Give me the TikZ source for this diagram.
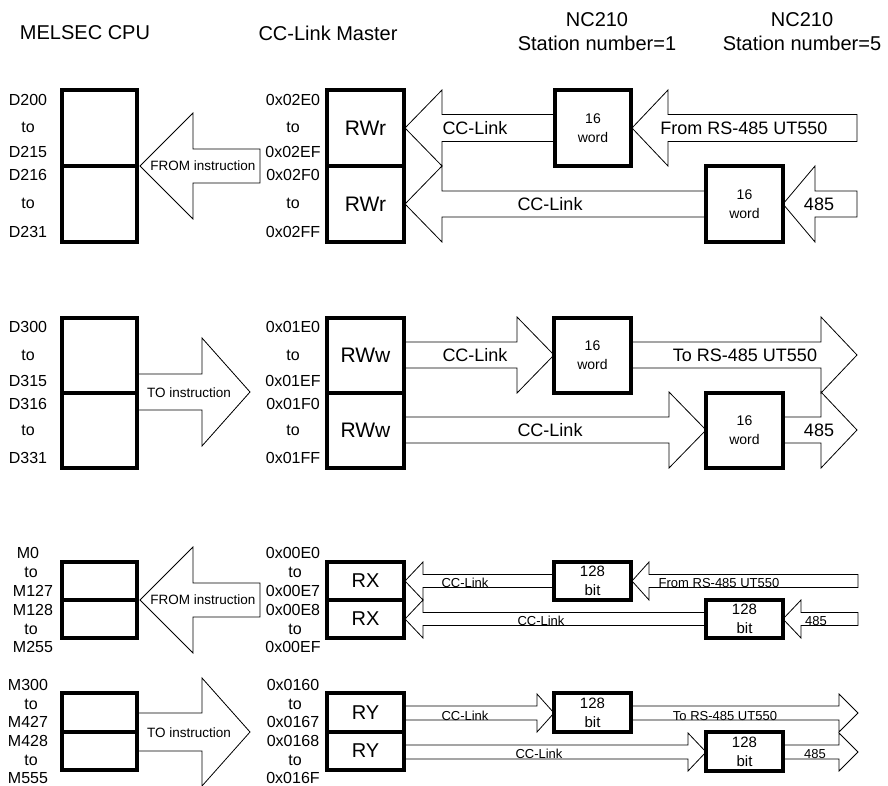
\documentclass[tikz,border=0pt]{standalone}
\usepackage{fontspec}
\setmainfont{Liberation Sans}
\newcommand\blockarrow[6]{% tip x, centre y, head base x, tail x, head half height, shaft half height
  \draw[arw] (#1,#2) -- (#3,{#2-#5}) -- (#3,{#2-#6}) -- (#4,{#2-#6}) -- (#4,{#2+#6}) -- (#3,{#2+#6}) -- (#3,{#2+#5}) -- cycle;}
\newcommand\boxat[6][]{% [style] name, x1, y1, x2, y2, text
  \node[bx,#1,minimum width={#5-#3},minimum height={#6-#4}] (#2) at ({(#3+#5)/2},{(#4+#6)/2})}
\tikzset{
  arw/.style={draw=black,fill=white,line width=0.8pt,line join=miter},
  bx/.style={draw=black,fill=white,line width=3.3pt,inner sep=0pt,align=center},
  lab/.style={font=\fontsize{16}{16}\selectfont,inner sep=0pt},
  hdr/.style={font=\fontsize{20}{24}\selectfont,inner sep=0pt,align=center},
  big/.style={font=\fontsize{21}{21}\selectfont},
  med/.style={font=\fontsize{20}{20}\selectfont},
  alab/.style={font=\fontsize{18}{18}\selectfont,inner sep=0pt},
  slab/.style={font=\fontsize{13}{13}\selectfont,inner sep=0pt,anchor=base},
  ins/.style={font=\fontsize{13.5}{13.5}\selectfont,inner sep=0pt},
  wrd/.style={font=\fontsize{14}{19}\selectfont},
  bitf/.style={font=\fontsize{15}{19}\selectfont},
}
\begin{document}
\begin{tikzpicture}[x=1pt,y=-1pt]
\useasboundingbox (0,0) rectangle (888,786);
% headers
\node[hdr] (h1) at (85,33) {MELSEC CPU};
\node[hdr] (h2) at (328,33) {CC-Link Master};
\node[hdr] (h3) at (597,32) {NC210\\Station number=1};
\node[hdr] (h4) at (802,32) {NC210\\Station number=5};

% ===== Section 1: RWr =====
\blockarrow{140}{166}{193}{260}{53}{17}
\blockarrow{405}{128}{442}{555}{38}{13.5}
\blockarrow{632}{128}{668}{857}{38}{13.5}
\blockarrow{405}{204}{442}{706}{38}{13}
\blockarrow{783}{204}{815}{857}{38}{13}
\boxat{c1a}{62}{90}{137}{166} {};
\boxat{c1b}{62}{166}{137}{242} {};
\boxat[big]{m1a}{327}{90}{404}{166} {RWr};
\boxat[big]{m1b}{327}{166}{404}{242} {RWr};
\boxat[wrd]{s1a}{555}{90}{631}{166} {16\\word};
\boxat[wrd]{s1b}{706}{166}{783}{242} {16\\word};
\node[ins] (i1) at (203,166) {FROM instruction};
\node[alab] (a1) at (475,128) {CC-Link};
\node[alab] (a2) at (744,128) {From RS-485 UT550};
\node[alab] (a3) at (550,204) {CC-Link};
\node[alab] (a4) at (819,204) {485};
\foreach \t/\y [count=\i] in {D200/100,to/127,D215/152,D216/175,to/203,D231/232}
  \node[lab] (dl\i) at (28,\y) {\t};
\foreach \t/\y [count=\i] in {0x02E0/100,to/127,0x02EF/152,0x02F0/175,to/203,0x02FF/232}
  \node[lab] (ml\i) at (293,\y) {\t};

% ===== Section 2: RWw =====
\blockarrow{250}{392}{202}{137}{54}{18}
\blockarrow{554}{355}{517}{404}{38}{13}
\blockarrow{857}{355}{821}{631}{38}{13}
\blockarrow{706}{430}{669}{404}{38}{13}
\blockarrow{857}{430}{821}{783}{38}{13}
\boxat{c2a}{62}{318}{137}{393} {};
\boxat{c2b}{62}{393}{137}{468} {};
\boxat[big]{m2a}{327}{318}{404}{393} {RWw};
\boxat[big]{m2b}{327}{393}{404}{468} {RWw};
\boxat[wrd]{s2a}{554}{318}{631}{393} {16\\word};
\boxat[wrd]{s2b}{706}{393}{783}{468} {16\\word};
\node[ins] (i2) at (189,393) {TO instruction};
\node[alab] (b1) at (475,355) {CC-Link};
\node[alab] (b2) at (745,355) {To RS-485 UT550};
\node[alab] (b3) at (550,430) {CC-Link};
\node[alab] (b4) at (819,430) {485};
\foreach \t/\y [count=\i] in {D300/327,to/355,D315/381,D316/404,to/430,D331/458}
  \node[lab] (el\i) at (28,\y) {\t};
\foreach \t/\y [count=\i] in {0x01E0/327,to/355,0x01EF/381,0x01F0/404,to/430,0x01FF/458}
  \node[lab] (nl\i) at (293,\y) {\t};

% ===== Section 3: RX =====
\blockarrow{140}{600}{193}{260}{53}{17}
\blockarrow{405}{581}{423}{554}{19}{6.5}
\blockarrow{632}{581}{649}{858}{19}{6.5}
\blockarrow{405}{619}{423}{706}{19}{6.5}
\blockarrow{783}{619}{801}{858}{19}{6.5}
\boxat{c3a}{62}{562}{137}{600} {};
\boxat{c3b}{62}{600}{137}{638} {};
\boxat[med]{m3a}{327}{562}{404}{600} {RX};
\boxat[med]{m3b}{327}{600}{404}{638} {RX};
\boxat[bitf]{s3a}{554}{562}{631}{600} {128\\bit};
\boxat[bitf]{s3b}{706}{600}{783}{638} {128\\bit};
\node[ins] (i3) at (203,600) {FROM instruction};
\node[slab] (r1) at (465,587.5) {CC-Link};
\node[slab] (r2) at (719,587.5) {From RS-485 UT550};
\node[slab] (r3) at (541,625.5) {CC-Link};
\node[slab] (r4) at (816,625.5) {485};
\foreach \t/\x/\y [count=\i] in {M0/28/553,to/31/572,M127/33/591,M128/33/610,to/31/629,M255/33/647}
  \node[lab] (fl\i) at (\x,\y) {\t};
\foreach \t/\x/\y [count=\i] in {0x00E0/293/553,to/295/572,0x00E7/293/591,0x00E8/293/610,to/295/629,0x00EF/293/647}
  \node[lab] (ol\i) at (\x,\y) {\t};

% ===== Section 4: RY =====
\blockarrow{250}{732}{202}{137}{54}{19}
\blockarrow{554}{713}{537}{404}{19}{7}
\blockarrow{858}{713}{839}{631}{19}{7}
\blockarrow{706}{752}{688}{404}{19}{7}
\blockarrow{858}{752}{839}{783}{19}{7}
\boxat{c4a}{62}{693}{137}{732} {};
\boxat{c4b}{62}{732}{137}{770} {};
\boxat[med]{m4a}{327}{693}{404}{732} {RY};
\boxat[med]{m4b}{327}{732}{404}{770} {RY};
\boxat[bitf]{s4a}{554}{693}{631}{732} {128\\bit};
\boxat[bitf]{s4b}{706}{732}{783}{771} {128\\bit};
\node[ins] (i4) at (189,733) {TO instruction};
\node[slab] (t1) at (465,720) {CC-Link};
\node[slab] (t2) at (725,720) {To RS-485 UT550};
\node[slab] (t3) at (539,758.5) {CC-Link};
\node[slab] (t4) at (815,758.5) {485};
\foreach \t/\x/\y [count=\i] in {M300/28/685,to/31/704,M427/28/722,M428/28/741,to/31/760,M555/28/778}
  \node[lab] (gl\i) at (\x,\y) {\t};
\foreach \t/\x/\y [count=\i] in {0x0160/293/685,to/295/704,0x0167/293/722,0x0168/293/741,to/295/760,0x016F/293/778}
  \node[lab] (pl\i) at (\x,\y) {\t};
\end{tikzpicture}
\end{document}
